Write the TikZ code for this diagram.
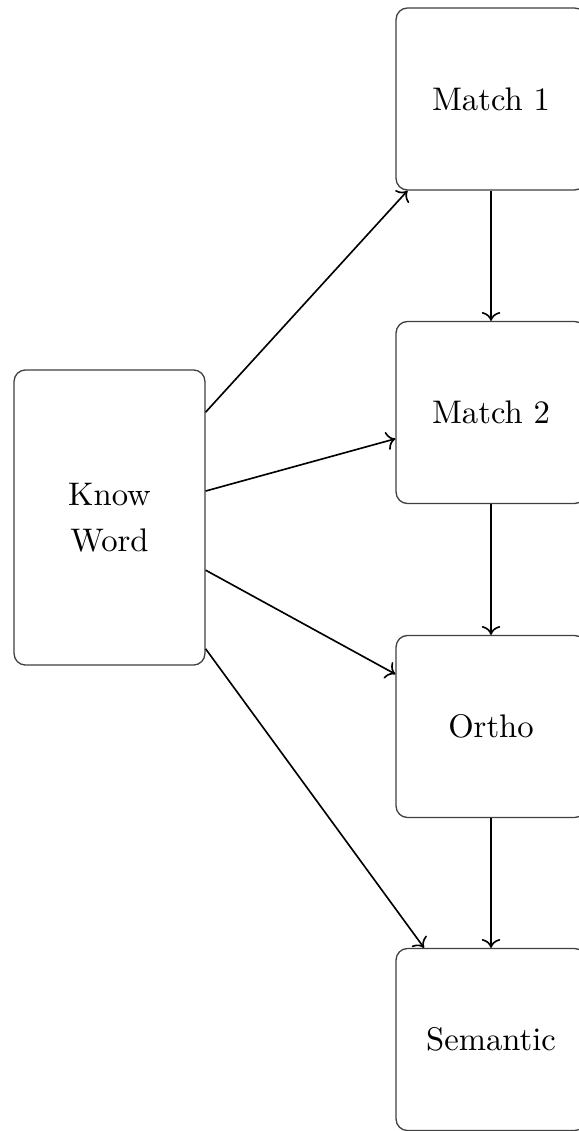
\documentclass[tikz,border=0pt]{standalone}
\usetikzlibrary{arrows.meta}
\begin{document}
\begin{tikzpicture}[x=0.306pt,y=-0.306pt,
  box/.style={draw=black!75, rounded corners=3.5pt, fill=white, align=center,
    minimum width=58.1pt, minimum height=55.7pt, inner sep=0pt},
  tall/.style={box, minimum width=58.4pt, minimum height=90.3pt},
  conn/.style={->, line width=0.5pt}]
\useasboundingbox (0,0) rectangle (579,1131);
\node[tall] (kw) at (109.5,517.5) {Know\\[2pt]Word};
\node[box] (m1) at (491,99) {Match 1};
\node[box] (m2) at (491,412.5) {Match 2};
\node[box] (or) at (491,726.5) {Ortho};
\node[box] (se) at (491,1039.5) {Semantic};
\draw[conn] (kw) -- (m1);
\draw[conn] (kw) -- (m2);
\draw[conn] (kw) -- (or);
\draw[conn] (kw) -- (se);
\draw[conn] (m1) -- (m2);
\draw[conn] (m2) -- (or);
\draw[conn] (or) -- (se);
\end{tikzpicture}
\end{document}
